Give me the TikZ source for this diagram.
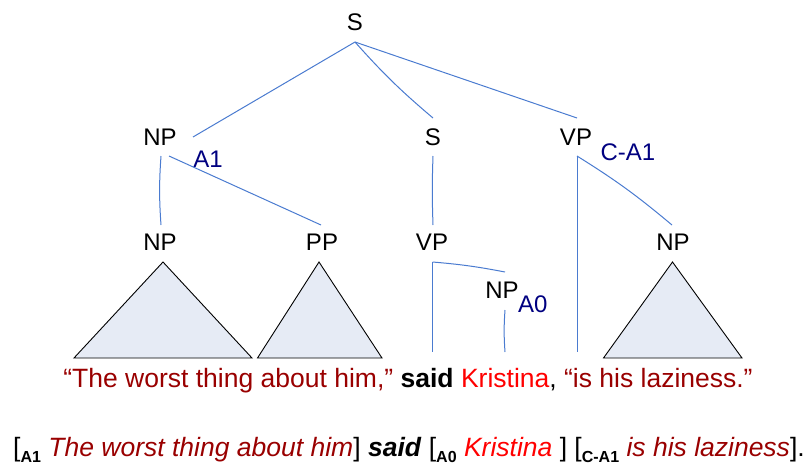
\documentclass[tikz,border=0pt]{standalone}
\usepackage{fontspec}
\setmainfont{Liberation Sans}
\definecolor{treeline}{HTML}{4A7BD0}
\definecolor{dred}{HTML}{990000}
\definecolor{brred}{HTML}{FF0000}
\definecolor{navy}{HTML}{000080}
\definecolor{trifill}{HTML}{E6EBF5}
\newcommand\rolesub[1]{\raisebox{-6pt}{\fontsize{16}{16}\selectfont\bfseries #1}}
\begin{document}
\begin{tikzpicture}[x=1pt,y=-1pt,
  lab/.style={font=\fontsize{24}{28}\selectfont, anchor=base, inner sep=0pt},
  role/.style={font=\fontsize{24}{28}\selectfont, text=navy, anchor=base, inner sep=0pt},
  edge/.style={draw=treeline, line width=1pt},
  tri/.style={draw=black, fill=trifill, line width=0.9pt, line join=miter}]
\useasboundingbox (0,0) rectangle (812,466);

% labels
\node[lab] (S0) at (355,30) {S};
\node[lab] (NP1) at (160,145) {NP};
\node[role] (A1) at (208,167) {A1};
\node[lab] (S1) at (433,145) {S};
\node[lab] (VP1) at (576,145) {VP};
\node[role] (CA1) at (628,160) {C-A1};
\node[lab] (NP2) at (160,250) {NP};
\node[lab] (PP) at (322,250) {PP};
\node[lab] (VP2) at (432,250) {VP};
\node[lab] (NP3) at (673,250) {NP};
\node[lab] (NPa) at (502,298) {NP};
\node[role, anchor=base west] (A0) at (518,312) {A0};

% free ends
\coordinate (endVP1) at (577,352);
\coordinate (endVP2) at (432.6,352);
\coordinate (endNPa) at (505,352);

% triangles
\draw[tri] ([shift={(3pt,-12pt)}]NP2.base) -- (74,358) -- (252,358) -- cycle;
\draw[tri] ([shift={(-3pt,-12pt)}]PP.base) -- (257.5,358) -- (382,358) -- cycle;
\draw[tri] ([shift={(-0.5pt,-12pt)}]NP3.base) -- (603.5,358) -- (742,358) -- cycle;

% connectors
\draw[edge] ([yshift=-12pt]S0.base) -- ([shift={(33pt,8pt)}]NP1.base);
\draw[edge] ([yshift=-12pt]S0.base) to[bend right=4] ([yshift=27pt]S1.base);
\draw[edge] ([yshift=-12pt]S0.base) -- ([shift={(1pt,27pt)}]VP1.base);
\draw[edge] ([shift={(1pt,-11pt)}]NP1.base) to[bend right=4] ([shift={(1pt,25pt)}]NP2.base);
\draw[edge] ([shift={(9pt,-11pt)}]NP1.base) -- ([shift={(-1pt,25pt)}]PP.base);
\draw[edge] ([yshift=-11pt]S1.base) to[bend right=2] ([shift={(1pt,25pt)}]VP2.base);
\draw[edge] ([shift={(1pt,-11pt)}]VP1.base) to[bend left=4] ([shift={(-1pt,25pt)}]NP3.base);
\draw[edge] ([shift={(1pt,-11pt)}]VP1.base) -- (endVP1);
\draw[edge] ([shift={(0.6pt,-12pt)}]VP2.base) to[bend left=3] ([shift={(3pt,26pt)}]NPa.base);
\draw[edge] ([shift={(0.6pt,-12pt)}]VP2.base) -- (endVP2);
\draw[edge] ([shift={(3pt,-12pt)}]NPa.base) to[bend right=4] (endNPa);

% sentence
\node[anchor=base, inner sep=0pt, font=\fontsize{26.5}{30}\selectfont] (sent) at (408,387)
  {{\color{dred}“The worst thing about him,”} \textbf{said} {\color{brred}Kristina}, {\color{dred}“is his laziness.”}};

% gloss
\node[anchor=base, inner sep=0pt, font=\fontsize{26.5}{30}\selectfont] (gloss) at (409,456)
  {[\rolesub{A1} \textit{\color{dred}The worst thing about him}] \textbf{\textit{said}} [\rolesub{A0} \textit{\color{brred}Kristina} ] [\rolesub{C-A1} \textit{\color{dred}is his laziness}].};
\end{tikzpicture}
\end{document}
